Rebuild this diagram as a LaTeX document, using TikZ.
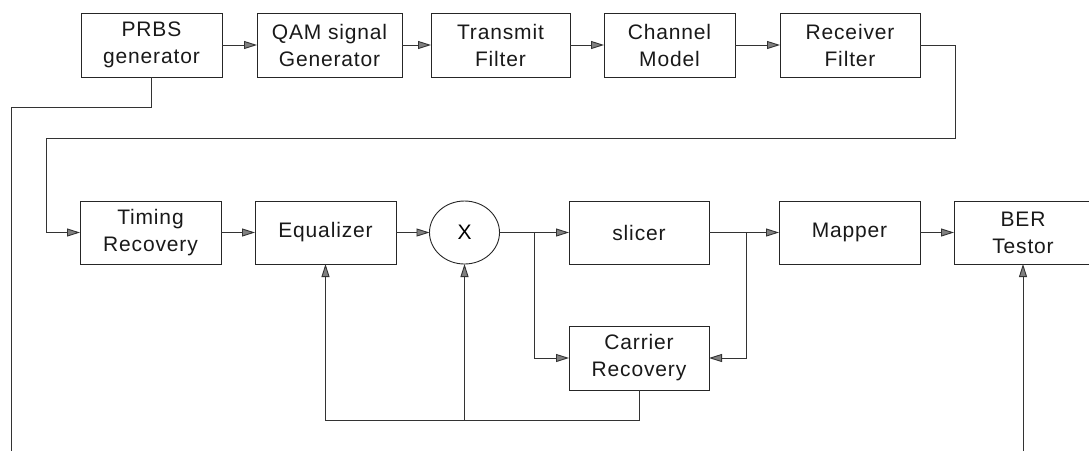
\documentclass[tikz,border=0pt]{standalone}
\usepackage{fontspec}
\setmainfont{Liberation Sans}[LetterSpace=4]
\usetikzlibrary{arrows.meta,shapes.geometric}
\tikzset{
  box/.style={draw=black!85, line width=0.9pt, inner sep=0pt, outer sep=0pt, anchor=north west,
    align=center, font=\fontsize{21}{27}\selectfont, text=black!90},
  wire/.style={draw=black!80, line width=0.9pt},
  arr/.style={wire, -{Triangle[length=13pt,width=8pt,fill=black!50]}},
}
\begin{document}
\begin{tikzpicture}[x=1pt,y=-1pt]
\useasboundingbox (0,0) rectangle (1089,451);
\clip (0,0) rectangle (1089,451);
% top row
\node[box, minimum width=141pt, minimum height=64pt] (prbs) at (81,13) {PRBS\\generator};
\node[box, minimum width=145pt, minimum height=64pt] (qam) at (257,13) {QAM signal\\Generator};
\node[box, minimum width=139pt, minimum height=64pt] (tx) at (431,13) {Transmit\\Filter};
\node[box, minimum width=131pt, minimum height=64pt] (ch) at (604,13) {Channel\\Model};
\node[box, minimum width=140pt, minimum height=64pt] (rx) at (780,13) {Receiver\\Filter};
% second row
\node[box, minimum width=141pt, minimum height=63pt] (tim) at (80,201) {Timing\\Recovery};
\node[box, minimum width=141pt, minimum height=63pt] (eq) at (255,201) {Equalizer};
\node[draw=black!85, line width=0.9pt, ellipse, inner sep=0pt, outer sep=0pt,
  minimum width=70pt, minimum height=63pt, font=\fontsize{21}{27}\selectfont] (mul) at (464.5,232.5) {X};
\node[box, minimum width=140pt, minimum height=63pt] (sl) at (569,201) {slicer};
\node[box, minimum width=141pt, minimum height=63pt] (map) at (779,201) {Mapper};
\node[box, minimum width=138pt, minimum height=63pt] (ber) at (954,201) {BER\\Testor};
\node[box, minimum width=140pt, minimum height=64pt] (car) at (569,326) {Carrier\\Recovery};
% coordinates
\coordinate (p1) at (11,107);
\coordinate (p2) at (11,451);
\coordinate (r1) at (955,138);
\coordinate (r2) at (46,138);
\coordinate (b1) at (534,232.5);
\coordinate (b2) at (746,232.5);
\coordinate (fb) at (325,420);
\coordinate (bb) at (1023,451);
% top row connectors
\draw[arr] (prbs.east) -- (qam.west);
\draw[arr] (qam.east) -- (tx.west);
\draw[arr] (tx.east) -- (ch.west);
\draw[arr] (ch.east) -- (rx.west);
\draw[wire] (prbs.south) |- (p1) -- (p2);
\draw[arr] (rx.east) -| (r1) -- (r2) |- (tim.west);
% second row connectors
\draw[arr] (tim.east) -- (eq.west);
\draw[arr] (eq.east) -- (mul.west);
\draw[arr] (mul.east) -- (sl.west);
\draw[arr] (sl.east) -- (map.west);
\draw[arr] (map.east) -- (ber.west);
\draw[arr] (b1) |- (car.west);
\draw[arr] (b2) |- (car.east);
\draw[arr] (car.south) |- (eq.south |- fb) -- (eq.south);
\draw[arr] (mul.south |- fb) -- (mul.south);
\draw[arr] (bb) -- (ber.south);
\end{tikzpicture}
\end{document}
